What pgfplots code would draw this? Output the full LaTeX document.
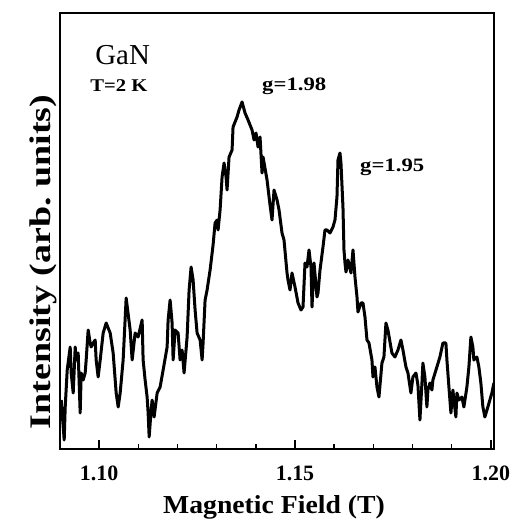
\documentclass[border=0pt]{standalone}
\usepackage{fontspec}
\setmainfont{Liberation Serif}
\usepackage{graphicx}
\usepackage{pgfplots}
\pgfplotsset{compat=1.18}

\begin{document}
\begin{tikzpicture}
\begin{axis}[
  scale only axis,
  width=434bp, height=436bp,
  xmin=1.0900, xmax=1.2008,
  ymin=0, ymax=436,
  axis line style={line width=2bp},
  xtick={1.10,1.15,1.20},
  xticklabels={1.10,1.15,1.20},
  minor xtick={1.11,1.12,1.13,1.14,1.16,1.17,1.18,1.19},
  ytick=\empty,
  xtick pos=bottom,
  tick align=inside,
  major tick length=9bp,
  minor tick length=5bp,
  every tick/.style={line width=1.5bp, black},
  xticklabel style={anchor=base, yshift=-31bp,
    font=\bfseries\fontsize{22}{22}\selectfont},
  xlabel={\scalebox{1.07}[1]{Magnetic Field (T)}},
  xlabel style={at={(axis description cs:0.493,-0.1468)}, anchor=base,
    font=\bfseries\fontsize{26}{26}\selectfont},
  ylabel={\scalebox{1.27}[1]{Intensity (arb.\ units)}},
  ylabel style={at={(axis description cs:-0.023,0.429)}, anchor=base,
    rotate=0, font=\bfseries\fontsize{30}{30}\selectfont},
  clip=true,
]
\addplot[black, line width=3bp, line join=round] coordinates {
(1.09031,49) (1.09082,22) (1.09107,9) (1.09133,42) (1.09184,79)
(1.09260,102) (1.09286,76) (1.09337,56) (1.09388,102) (1.09413,89)
(1.09464,96) (1.09515,36) (1.09541,76) (1.09592,69) (1.09643,76)
(1.09668,89) (1.09719,119) (1.09770,106) (1.09796,102) (1.09847,106)
(1.09898,109) (1.09923,89) (1.09974,72) (1.10026,89) (1.10102,116)
(1.10179,126) (1.10281,116) (1.10357,96) (1.10434,56) (1.10485,42)
(1.10536,56) (1.10612,89) (1.10689,151) (1.10791,119) (1.10842,89)
(1.10918,116) (1.10995,112) (1.11097,129) (1.11122,89) (1.11173,69)
(1.11224,52) (1.11250,36) (1.11276,12) (1.11327,39) (1.11352,49)
(1.11403,32) (1.11480,56) (1.11556,62) (1.11633,79) (1.11735,102)
(1.11760,129) (1.11811,149) (1.11862,126) (1.11888,89) (1.11939,119)
(1.12015,116) (1.12066,89) (1.12117,99) (1.12168,76) (1.12245,112)
(1.12296,159) (1.12347,182) (1.12398,169) (1.12449,139) (1.12500,116)
(1.12577,109) (1.12628,89) (1.12653,106) (1.12704,149) (1.12755,159)
(1.12832,179) (1.12908,204) (1.12959,226) (1.13010,229) (1.13036,219)
(1.13087,239) (1.13138,272) (1.13189,286) (1.13240,272) (1.13265,259)
(1.13316,292) (1.13393,299) (1.13418,322) (1.13520,332) (1.13571,339)
(1.13648,347) (1.13724,336) (1.13801,329) (1.13903,319) (1.13954,309)
(1.14005,316) (1.14056,302) (1.14107,312) (1.14158,276) (1.14184,292)
(1.14286,269) (1.14362,244) (1.14413,229) (1.14464,259) (1.14541,249)
(1.14592,239) (1.14668,216) (1.14719,209) (1.14796,176) (1.14821,169)
(1.14872,159) (1.14923,176) (1.15000,162) (1.15077,146) (1.15153,139)
(1.15204,142) (1.15255,186) (1.15306,182) (1.15357,199) (1.15408,182)
(1.15434,142) (1.15485,186) (1.15561,152) (1.15587,156) (1.15638,179)
(1.15714,202) (1.15765,219) (1.15816,219) (1.15893,216) (1.15969,222)
(1.16020,229) (1.16071,252) (1.16097,289) (1.16148,296) (1.16173,286)
(1.16224,242) (1.16250,199) (1.16276,186) (1.16301,177) (1.16352,189)
(1.16429,176) (1.16480,199) (1.16531,172) (1.16582,152) (1.16607,137)
(1.16684,146) (1.16735,146) (1.16786,132) (1.16837,109) (1.16888,106)
(1.16964,89) (1.16990,72) (1.17041,82) (1.17092,62) (1.17143,52)
(1.17219,86) (1.17270,92) (1.17321,126) (1.17372,119) (1.17474,96)
(1.17551,92) (1.17628,99) (1.17704,109) (1.17755,99) (1.17832,82)
(1.17883,76) (1.17959,56) (1.18010,72) (1.18087,76) (1.18138,64)
(1.18189,29) (1.18240,66) (1.18265,86) (1.18316,72) (1.18367,42)
(1.18393,59) (1.18444,66) (1.18495,59) (1.18520,69) (1.18622,82)
(1.18699,92) (1.18776,106) (1.18852,106) (1.18878,89) (1.18929,62)
(1.18980,36) (1.19031,59) (1.19056,49) (1.19107,32) (1.19133,56)
(1.19184,49) (1.19260,52) (1.19311,42) (1.19388,62) (1.19439,82)
(1.19490,112) (1.19541,102) (1.19566,89) (1.19643,92) (1.19694,82)
(1.19745,66) (1.19796,42) (1.19847,32) (1.19923,42) (1.19974,49)
(1.20026,56) (1.20077,66)
};
\node[anchor=base west, inner sep=0pt, font=\fontsize{29}{29}\selectfont]
  at (axis cs:1.09898,384) {GaN};
\node[anchor=base west, inner sep=0pt, font=\bfseries\fontsize{18}{18}\selectfont]
  at (axis cs:1.09770,357) {\scalebox{1.15}[1]{T=2 K}};
\node[anchor=base west, inner sep=0pt, font=\bfseries\fontsize{19}{19}\selectfont]
  at (axis cs:1.14158,358) {\scalebox{1.2}[1]{g=1.98}};
\node[anchor=base west, inner sep=0pt, font=\bfseries\fontsize{19}{19}\selectfont]
  at (axis cs:1.16658,277) {\scalebox{1.2}[1]{g=1.95}};
\end{axis}
\pgfresetboundingbox
\path (current axis.south west) ++(-60bp,-73bp) rectangle ++(516bp,522bp);
\end{tikzpicture}
\end{document}
